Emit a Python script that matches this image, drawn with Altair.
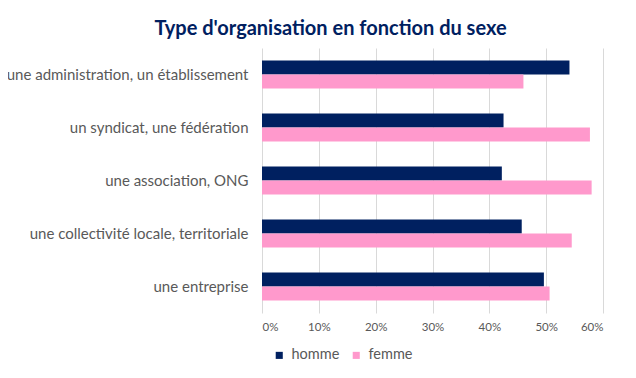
import altair as alt
import pandas as pd

categories = [
    "une administration, un établissement",
    "un syndicat, une fédération",
    "une association, ONG",
    "une collectivité locale, territoriale",
    "une entreprise",
]
homme = [0.541, 0.425, 0.422, 0.457, 0.496]
femme = [0.460, 0.577, 0.580, 0.545, 0.506]
series = ["homme", "femme"]
colors = ["#002060", "#FF99CC"]

rows = []
for c, h, f in zip(categories, homme, femme):
    rows.append({"cat": c, "sexe": "homme", "val": h})
    rows.append({"cat": c, "sexe": "femme", "val": f})
df = pd.DataFrame(rows)

FONT = "Lato"

chart = (
    alt.Chart(df)
    .mark_bar()
    .encode(
        x=alt.X(
            "val:Q",
            scale=alt.Scale(domain=[0, 0.6], nice=False),
            axis=alt.Axis(
                format=".0%",
                values=[0, 0.1, 0.2, 0.3, 0.4, 0.5, 0.6],
                title=None,
                domain=False,
                ticks=False,
                grid=True,
                gridColor="#D9D9D9",
                gridWidth=1,
                labelColor="#595959",
                labelFontSize=11.5,
                labelFont=FONT,
                labelPadding=8,
            ),
        ),
        y=alt.Y(
            "cat:N",
            sort=categories,
            scale=alt.Scale(paddingInner=0.472, paddingOuter=0.236),
            axis=alt.Axis(
                title=None,
                domain=False,
                ticks=False,
                labelColor="#595959",
                labelFontSize=15,
                labelFont=FONT,
                labelPadding=14,
                labelLimit=400,
            ),
        ),
        yOffset=alt.YOffset("sexe:N", sort=series, scale=alt.Scale(paddingInner=0, paddingOuter=0)),
        color=alt.Color(
            "sexe:N",
            scale=alt.Scale(domain=series, range=colors),
            sort=series,
            legend=alt.Legend(
                title=None,
                orient="none",
                direction="horizontal",
                legendX=10,
                legendY=300,
                symbolType="square",
                symbolSize=50,
                symbolStrokeWidth=0,
                labelFontSize=14.5,
                labelFont=FONT,
                labelColor="#595959",
                labelOffset=5,
                columnPadding=9,
                symbolOffset=0,
            ),
        ),
    )
    .properties(
        width=341,
        height=265,
        autosize=alt.AutoSizeParams(type="none"),
        padding={"left": 254, "top": 40, "right": 25, "bottom": 57},
        title=alt.TitleParams(
            "Type d'organisation en fonction du sexe",
            font=FONT,
            fontSize=20,
            fontWeight="bold",
            color="#002060",
            anchor="middle",
            dx=-102,
            offset=9,
        ),
    )
    .configure_view(stroke=None)
)

chart.save("out.html", embed_options={"renderer": "svg", "actions": False})
